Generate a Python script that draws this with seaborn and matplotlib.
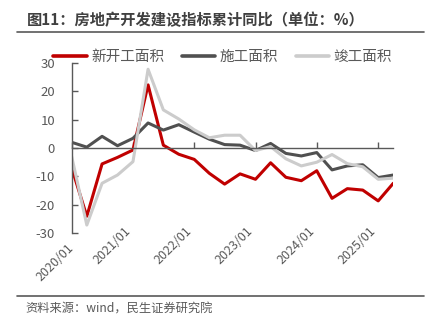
import matplotlib
matplotlib.use("Agg")
import matplotlib.pyplot as plt
import matplotlib.dates as mdates
from matplotlib.lines import Line2D
import seaborn as sns
import pandas as pd

# ---- data ----
dates = [
    "2020-01-01", "2020-03-31", "2020-06-30", "2020-09-30", "2020-12-31",
    "2021-03-31", "2021-06-30", "2021-09-30", "2021-12-31",
    "2022-03-31", "2022-06-30", "2022-09-30", "2022-12-31",
    "2023-03-31", "2023-06-30", "2023-09-30", "2023-12-31",
    "2024-03-31", "2024-06-30", "2024-09-30", "2024-12-31",
    "2025-03-31",
]
new_start = [-7.0, -24.0, -5.6, -3.3, -0.7, 22.2, 1.0, -2.2, -4.0, -8.9, -12.7,
             -9.1, -11.0, -5.2, -10.3, -11.5, -8.0, -17.7, -14.3, -14.8, -18.6, -12.4]
construction = [2.0, 0.3, 4.1, 0.8, 3.4, 8.8, 6.3, 8.2, 5.6, 3.1, 1.2,
                1.0, -0.9, 1.6, -1.9, -2.8, -1.6, -7.7, -6.3, -5.9, -10.4, -9.5]
completion = [-3.0, -27.1, -12.4, -9.5, -4.8, 27.7, 13.4, 10.2, 6.4, 3.6, 4.5,
              4.5, -0.9, 0.5, -3.8, -6.3, -5.0, -2.3, -5.5, -6.6, -11.0, -10.6]
series_names = ["新开工面积", "施工面积", "竣工面积"]
colors = ["#C00000", "#505050", "#CCCCCC"]
title = "图11：房地产开发建设指标累计同比（单位：%）"
source = "资料来源：wind，民生证券研究院"

df = pd.DataFrame({"date": pd.to_datetime(dates)})
df[series_names[0]] = new_start
df[series_names[1]] = construction
df[series_names[2]] = completion
long = df.melt(id_vars="date", var_name="series", value_name="value")

sns.set_theme(style="white")
plt.rcParams["font.family"] = ["Noto Sans CJK SC", "DejaVu Sans"]
plt.rcParams["axes.unicode_minus"] = False

W, H = 434, 325
fig = plt.figure(figsize=(W / 100, H / 100), dpi=100)
ax = fig.add_axes([71.7 / W, 1 - 233.3 / H, (393.3 - 71.7) / W, (233.3 - 62.7) / H])

sns.lineplot(data=long, x="date", y="value", hue="series", hue_order=series_names,
             palette=dict(zip(series_names, colors)), linewidth=2.2, ax=ax, legend=False)

axis_col = "#595959"
ax.set_ylim(-30, 30)
ax.set_yticks(range(-30, 31, 10))
ax.set_xlim(pd.Timestamp(dates[0]), pd.Timestamp(dates[-1]))
ax.set_xlabel("")
ax.set_ylabel("")
for s in ["top", "right"]:
    ax.spines[s].set_visible(False)
ax.spines["left"].set_color(axis_col)
ax.spines["left"].set_linewidth(1.0)
ax.spines["bottom"].set_position(("data", 0))
ax.spines["bottom"].set_color(axis_col)
ax.spines["bottom"].set_linewidth(1.0)

ax.xaxis.set_major_locator(mdates.YearLocator())
ax.tick_params(axis="x", direction="in", length=4, width=1, color=axis_col,
               bottom=True, labelbottom=False)
ax.tick_params(axis="y", direction="in", length=4, width=1, color=axis_col,
               left=True, labelcolor=axis_col, labelsize=9.5, pad=12)

sec = ax.secondary_xaxis("bottom")
sec.xaxis.set_major_locator(mdates.YearLocator())
sec.xaxis.set_major_formatter(mdates.DateFormatter("%Y/%m"))
sec.spines["bottom"].set_visible(False)
sec.tick_params(axis="x", length=0, pad=9, labelsize=9, labelcolor=axis_col)
plt.setp(sec.get_xticklabels(), rotation=45, ha="right", va="center",
         rotation_mode="anchor")

handles = [Line2D([], [], color=c, lw=2.6) for c in colors]
leg = ax.legend(handles, series_names, loc="center",
                bbox_to_anchor=(222.5 / W, 1 - 56.7 / H), bbox_transform=fig.transFigure,
                ncol=3, frameon=False, fontsize=10.5, handlelength=2.3,
                handletextpad=0.3, columnspacing=1.2, borderpad=0)
for t in leg.get_texts():
    t.set_color(axis_col)

fig.text(26.7 / W, 1 - 20 / H, title, fontsize=11, fontweight="bold",
         ha="left", va="center", color="#404040")
fig.add_artist(Line2D([17 / W, 424 / W], [1 - 31.5 / H] * 2, color=axis_col,
                      lw=1.2, transform=fig.transFigure))
fig.add_artist(Line2D([17 / W, 424 / W], [1 - 295.7 / H] * 2, color=axis_col,
                      lw=1.2, transform=fig.transFigure))
fig.text(25 / W, 1 - 309 / H, source, fontsize=8.8, ha="left", va="center",
         color=axis_col)

fig.savefig("out.png", dpi=100)
